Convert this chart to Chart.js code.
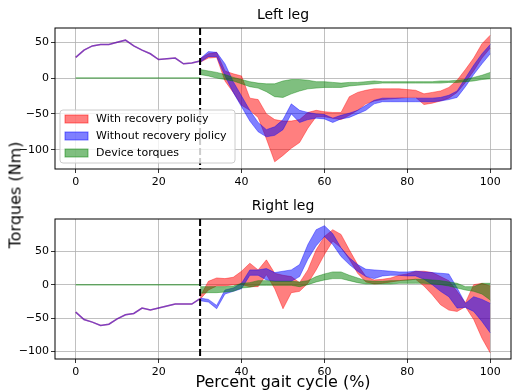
<!DOCTYPE html>
<html>
<head>
<meta charset="utf-8">
<script src="https://cdn.jsdelivr.net/npm/chart.js@4.4.0/dist/chart.umd.min.js"></script>
<style>
    body { margin: 0; background: #fff; width: 512px; height: 390px; overflow: hidden; position: relative; font-family: "DejaVu Sans", sans-serif; color: #000; }
    canvas { position: absolute; left: 0; }
    #leftLeg { top: 0; }
    #rightLeg { top: 195px; }
    #ylabel { position: absolute; left: 15px; top: 195px; transform: translate(-50%, -50%) rotate(-90deg); font-size: 16px; white-space: nowrap; }
    #xlabel { position: absolute; left: 283px; top: 381px; transform: translate(-50%, -50%); font-size: 16px; white-space: nowrap; }
</style>
</head>
<body>
<canvas id="leftLeg" width="512" height="195"></canvas>
<canvas id="rightLeg" width="512" height="195"></canvas>
<div id="ylabel">Torques (Nm)</div>
<div id="xlabel">Percent gait cycle (%)</div>
<script>
// gait cycle before the perturbation (both policies identical, device off)
const pctPre = [0, 2, 4, 6, 8, 10, 12, 14, 16, 18, 20, 22, 24, 26, 28, 30];
const leftPre = [29, 39, 45, 47, 47, 50, 53, 45, 39, 34, 26, 27, 28, 20, 21, 24];
const rightPre = [-41, -52, -56, -61, -59, -51, -45, -43, -35, -38, -35, -32, -29, -29, -29, -21];
const devicePre = [0, 0, 0, 0, 0, 0, 0, 0, 0, 0, 0, 0, 0, 0, 0, 0];

// gait cycle after the perturbation at 30 %
const pctPost = [30, 32, 34, 36, 38, 40, 42, 44, 46, 48, 50, 52, 54, 56, 58, 60, 62, 64, 66, 68,
    70, 72, 74, 76, 78, 80, 82, 84, 86, 88, 90, 92, 94, 96, 98, 100];

const leftWithLo = [22, 28, 29, -4, -20, -38, -45, -55, -85, -117, -108, -98, -90, -70, -54, -54, -56, -58, -52, -45,
    -36, -32, -30, -29, -28, -27, -27, -37, -35, -32, -28, -20, -6, 10, 28, 42];
const leftWithHi = [27, 34, 36, 10, 6, 3, -28, -30, -50, -58, -60, -60, -58, -48, -45, -47, -48, -48, -26, -20,
    -17, -15, -15, -15, -15, -16, -17, -22, -20, -18, -13, -3, 12, 28, 48, 60];
const leftWithoutLo = [22, 30, 30, 3, -20, -40, -60, -75, -82, -80, -72, -50, -62, -58, -56, -57, -62, -57, -55, -50,
    -45, -36, -33, -33, -33, -33, -33, -33, -33, -32, -30, -27, -12, 5, 20, 34];
const leftWithoutHi = [27, 37, 36, 20, -5, -25, -45, -62, -72, -68, -58, -36, -45, -48, -50, -51, -56, -52, -49, -45,
    -38, -31, -28, -28, -28, -28, -28, -28, -28, -27, -24, -18, 0, 18, 34, 47];
const leftDeviceLo = [5, 3, 0, -2, -4, -8, -12, -14, -19, -26, -27, -22, -18, -15, -14, -13, -13, -13, -11, -10,
    -9, -8, -7, -7, -7, -7, -7, -7, -7, -7, -6, -6, -5, -4, -2, -1];
const leftDeviceHi = [12, 10, 8, 5, 1, -2, -5, -7, -8, -8, -4, -2, -2, -3, -5, -5, -6, -7, -6, -6,
    -5, -4, -5, -5, -5, -5, -5, -5, -5, -4, -4, -3, -2, 1, 4, 8];

const rightWithLo = [-22, -8, -2, -2, 0, 0, -3, -3, 15, -6, -36, -12, -10, 2, 22, 45, 65, 55, 38, 17,
    4, 1, 2, 4, 6, 7, 8, -2, -15, -30, -38, -40, -33, -52, -80, -102];
const rightWithHi = [-18, 5, 10, 9, 11, 20, 32, 22, 37, 17, 14, 12, 3, 22, 52, 72, 82, 75, 52, 30,
    12, 7, 8, 10, 14, 16, 20, 20, 18, 12, 6, -10, -27, 0, 2, -2];
const rightWithoutLo = [-24, -26, -36, -14, -10, -6, 14, 14, 7, 5, 5, 5, 12, 38, 58, 72, 60, 42, 30, 20,
    12, 9, 13, 14, 14, 13, 13, 8, 0, -10, -18, -35, -34, -40, -55, -72];
const rightWithoutHi = [-20, -22, -31, -8, -5, 2, 22, 22, 24, 18, 20, 22, 30, 60, 82, 88, 76, 55, 40, 30,
    23, 22, 21, 20, 19, 19, 20, 19, 18, 17, 16, -5, -28, -18, -22, -28];
const rightDeviceLo = [-13, -12, -12, -11, -10, -5, -4, -1, -1, -1, -1, -1, -3, 0, 4, 7, 9, 9, 6, 3,
    1, 1, 1, 1, 2, 2, 2, 2, 1, 0, -2, -5, -8, -10, -14, -23];
const rightDeviceHi = [-3, -3, -3, -3, -2, 2, 3, 6, 6, 5, 5, 5, 4, 6, 12, 16, 19, 19, 14, 10,
    6, 5, 5, 6, 6, 7, 8, 8, 7, 6, 4, 2, -3, -3, 2, 2];

const onsetPct = 30;
const xTicks = [0, 20, 40, 60, 80, 100];
const yTicks = [-100, -50, 0, 50];
const seriesNames = ["With recovery policy", "Without recovery policy", "Device torques"];

const RED = "rgba(255, 0, 0, 0.5)";
const BLUE = "rgba(0, 0, 255, 0.5)";
const GREEN = "rgba(0, 128, 0, 0.5)";
const FONT = "'DejaVu Sans', sans-serif";

const toPoints = (xs, ys) => xs.map((x, i) => ({ x: x, y: ys[i] }));

const line = (xs, ys, color) => ({
    data: toPoints(xs, ys),
    borderColor: color,
    borderWidth: 1.5,
    pointRadius: 0,
    fill: false,
});

const band = (xs, lo, hi, color) => [
    { data: toPoints(xs, hi), borderColor: color, borderWidth: 0.8, pointRadius: 0, fill: false },
    { data: toPoints(xs, lo), borderColor: color, borderWidth: 0.8, pointRadius: 0, backgroundColor: color, fill: "-1" },
];

// spines, perturbation onset marker and title
const decorations = {
    id: "decorations",
    afterDatasetsDraw(chart, args, opts) {
        const { ctx, chartArea: a, scales } = chart;
        const px = scales.x.getPixelForValue(onsetPct);
        ctx.save();
        ctx.strokeStyle = "#000";
        ctx.lineWidth = 2;
        ctx.setLineDash([7, 3]);
        ctx.beginPath();
        ctx.moveTo(px, a.top);
        ctx.lineTo(px, a.bottom);
        ctx.stroke();
        ctx.setLineDash([]);
        ctx.lineWidth = 1;
        ctx.strokeRect(a.left, a.top, a.right - a.left, a.bottom - a.top);
        ctx.fillStyle = "#000";
        ctx.font = "14px " + FONT;
        ctx.textAlign = "center";
        ctx.textBaseline = "alphabetic";
        ctx.fillText(opts.title, (a.left + a.right) / 2, a.top - 9);
        ctx.restore();
    },
};

// matplotlib-like legend in the lower left corner
const bandLegend = {
    id: "bandLegend",
    afterDraw(chart, args, opts) {
        if (!opts.show) return;
        const { ctx, chartArea: a } = chart;
        const colors = [RED, BLUE, GREEN];
        const x0 = a.left + 5, y0 = a.bottom - 59, w = 175, h = 53;
        ctx.save();
        ctx.fillStyle = "rgba(255, 255, 255, 0.8)";
        ctx.strokeStyle = "#cccccc";
        ctx.lineWidth = 1;
        ctx.beginPath();
        ctx.roundRect(x0, y0, w, h, 3);
        ctx.fill();
        ctx.stroke();
        ctx.font = "11px " + FONT;
        ctx.textBaseline = "middle";
        seriesNames.forEach((name, i) => {
            const cy = y0 + 9 + i * 17;
            ctx.fillStyle = colors[i];
            ctx.fillRect(x0 + 5, cy - 4, 23, 8);
            ctx.strokeStyle = colors[i];
            ctx.strokeRect(x0 + 5, cy - 4, 23, 8);
            ctx.fillStyle = "#000";
            ctx.fillText(name, x0 + 36, cy);
        });
        ctx.restore();
    },
};

// chart.js paints dataset 0 last, so the list runs from top layer to bottom layer
const makeChart = (canvasId, cfg) => new Chart(canvasId, {
    type: "line",
    data: {
        datasets: [
            line(pctPre, devicePre, GREEN),
            line(pctPre, cfg.pre, BLUE),
            line(pctPre, cfg.pre, RED),
            ...band(pctPost, cfg.deviceLo, cfg.deviceHi, GREEN),
            ...band(pctPost, cfg.withoutLo, cfg.withoutHi, BLUE),
            ...band(pctPost, cfg.withLo, cfg.withHi, RED),
        ],
    },
    options: {
        responsive: false,
        animation: false,
        devicePixelRatio: 1,
        elements: { line: { tension: 0 } },
        layout: { padding: { top: cfg.padTop, right: 1, left: 0, bottom: 0 } },
        scales: {
            x: {
                type: "linear",
                min: -5,
                max: 105,
                afterBuildTicks: (scale) => { scale.ticks = xTicks.map((v) => ({ value: v })); },
                afterFit: (scale) => { scale.height = cfg.xAxisHeight; },
                grid: { color: "#b0b0b0", lineWidth: 0.8, tickColor: "#000", tickLength: 4 },
                border: { display: false },
                ticks: { color: "#000", font: { size: 11, family: FONT }, padding: 3, maxRotation: 0 },
            },
            y: {
                type: "linear",
                min: cfg.yMin,
                max: cfg.yMax,
                afterBuildTicks: (scale) => { scale.ticks = yTicks.map((v) => ({ value: v })); },
                afterFit: (scale) => { scale.width = 55; },
                grid: { color: "#b0b0b0", lineWidth: 0.8, tickColor: "#000", tickLength: 4 },
                border: { display: false },
                ticks: {
                    color: "#000",
                    font: { size: 11, family: FONT },
                    padding: 2,
                    callback: (v) => String(v).replace("-", "\u2212"),
                },
            },
        },
        plugins: {
            legend: { display: false },
            tooltip: { enabled: false },
            decorations: { title: cfg.title },
            bandLegend: { show: cfg.legend },
        },
    },
    plugins: [decorations, bandLegend],
});

makeChart("leftLeg", {
    title: "Left leg",
    legend: true,
    padTop: 28,
    xAxisHeight: 26,
    yMin: -127,
    yMax: 70,
    pre: leftPre,
    withLo: leftWithLo, withHi: leftWithHi,
    withoutLo: leftWithoutLo, withoutHi: leftWithoutHi,
    deviceLo: leftDeviceLo, deviceHi: leftDeviceHi,
});

makeChart("rightLeg", {
    title: "Right leg",
    legend: false,
    padTop: 24,
    xAxisHeight: 31,
    yMin: -111,
    yMax: 98,
    pre: rightPre,
    withLo: rightWithLo, withHi: rightWithHi,
    withoutLo: rightWithoutLo, withoutHi: rightWithoutHi,
    deviceLo: rightDeviceLo, deviceHi: rightDeviceHi,
});
</script>
</body>
</html>
